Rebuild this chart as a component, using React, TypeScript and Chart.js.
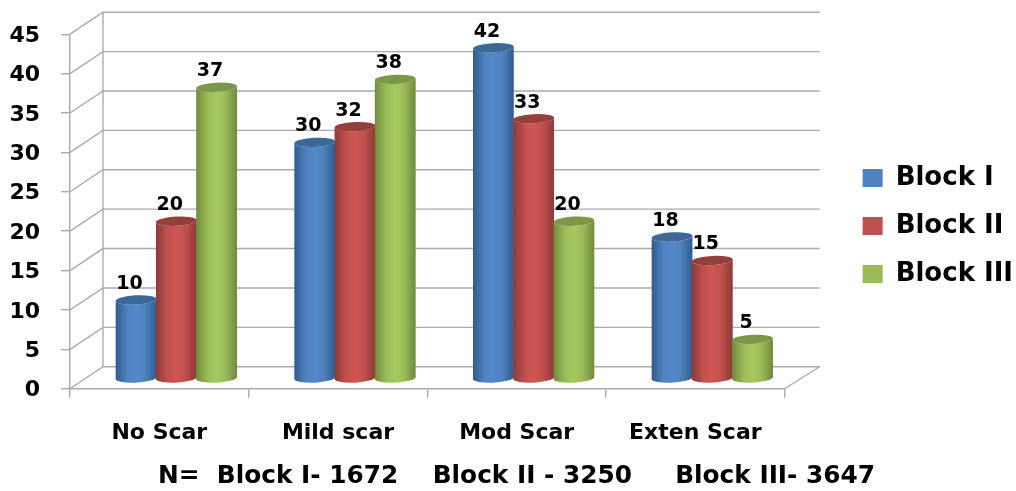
import React, { useEffect, useRef } from "react";
import { Chart, registerables } from "chart.js";

Chart.register(...registerables);

const categories = ["No Scar", "Mild scar", "Mod Scar", "Exten Scar"];
const blockI = [10, 30, 42, 18];
const blockII = [20, 32, 33, 15];
const blockIII = [37, 38, 20, 5];
const seriesNames = ["Block I", "Block II", "Block III"];
const footnote = "N=  Block I- 1672    Block II - 3250     Block III- 3647";

const flatColors = ["#4f81bd", "#c0504d", "#9bbb59"];
const edgeColors = ["#2f5c90", "#8c3a38", "#6f8a3a"];
const lightColors = ["#5289cc", "#d05654", "#a6c85f"];
const capColors = ["#3c6796", "#953f3d", "#7b9747"];

const GRID = "#ababab";
const DEPTH_X = 33;
const DEPTH_Y = 22;
const BAR_DX = 17;
const BAR_DY = -10;
const CAP_RY = 4.6;
const CAP_TILT = -0.05;

// Back wall and floor of the 3D box, projected from the value axis.
const boxPlugin = {
  id: "box3d",
  beforeDatasetsDraw(chart: any) {
    const { ctx, chartArea: a, scales } = chart;
    const y = scales.y;
    const wallRight = a.right + 35;
    ctx.save();
    ctx.strokeStyle = GRID;
    ctx.lineWidth = 1.4;
    for (const t of y.ticks) {
      const py = y.getPixelForValue(t.value);
      ctx.beginPath();
      ctx.moveTo(a.left, py);
      ctx.lineTo(a.left + DEPTH_X, py - DEPTH_Y);
      ctx.lineTo(wallRight, py - DEPTH_Y);
      ctx.stroke();
    }
    ctx.beginPath();
    ctx.moveTo(a.left + DEPTH_X, y.getPixelForValue(45) - DEPTH_Y);
    ctx.lineTo(a.left + DEPTH_X, y.getPixelForValue(0) - DEPTH_Y);
    ctx.stroke();
    ctx.beginPath();
    ctx.moveTo(a.right, a.bottom);
    ctx.lineTo(wallRight, a.bottom - DEPTH_Y);
    ctx.stroke();
    ctx.restore();
  },
};

// Replaces the flat bars with shaded cylinders and writes their values above them.
const cylinderPlugin = {
  id: "cylinders",
  beforeDatasetsDraw(chart: any) {
    const { ctx } = chart;
    chart.data.datasets.forEach((ds: any, di: number) => {
      const meta = chart.getDatasetMeta(di);
      meta.data.forEach((bar: any) => {
        const cx = bar.x + BAR_DX;
        const rx = bar.width / 2 + 0.3;
        const top = bar.y + BAR_DY;
        const bottom = bar.base + BAR_DY;
        const g = ctx.createLinearGradient(cx - rx, 0, cx + rx, 0);
        g.addColorStop(0, edgeColors[di]);
        g.addColorStop(0.28, flatColors[di]);
        g.addColorStop(0.5, lightColors[di]);
        g.addColorStop(0.72, flatColors[di]);
        g.addColorStop(1, edgeColors[di]);
        ctx.save();
        ctx.fillStyle = g;
        ctx.beginPath();
        ctx.ellipse(cx, top, rx, CAP_RY, CAP_TILT, Math.PI, 0, true);
        ctx.ellipse(cx, bottom, rx, CAP_RY, CAP_TILT, 0, Math.PI, false);
        ctx.closePath();
        ctx.fill();
        ctx.fillStyle = capColors[di];
        ctx.beginPath();
        ctx.ellipse(cx, top, rx, CAP_RY, CAP_TILT, 0, Math.PI * 2);
        ctx.fill();
        ctx.restore();
      });
    });
    ctx.save();
    ctx.fillStyle = "#000";
    ctx.font = "bold 19px 'DejaVu Sans'";
    ctx.textAlign = "center";
    ctx.textBaseline = "middle";
    chart.data.datasets.forEach((ds: any, di: number) => {
      chart.getDatasetMeta(di).data.forEach((bar: any, i: number) => {
        ctx.fillText(String(ds.data[i]), bar.x + BAR_DX - 6.5, bar.y + BAR_DY - 16);
      });
    });
    ctx.restore();
    return false;
  },
};

// Moves the legend and footnote clear of the plot once the layout is known.
const placementPlugin = {
  id: "placement",
  afterLayout(chart: any) {
    const legend = chart.legend;
    legend.left = chart.chartArea.right + 56;
    legend.right = legend.left + legend.width;
    legend.top -= 36;
    legend.bottom -= 36;
    const title = chart.titleBlock;
    title.left = 0;
    title.right = 1033;
  },
};

export default function App() {
  const ref = useRef<HTMLCanvasElement>(null);

  useEffect(() => {
    const chart = new Chart(ref.current!, {
      type: "bar",
      data: {
        labels: categories,
        datasets: [blockI, blockII, blockIII].map((values, i) => ({
          label: seriesNames[i],
          data: values,
          backgroundColor: flatColors[i],
          categoryPercentage: 0.676,
          barPercentage: 1,
        })),
      },
      options: {
        animation: false,
        responsive: false,
        layout: { padding: { left: 0, right: 49, top: 33, bottom: 0 } },
        scales: {
          x: {
            afterFit(scale: any) {
              scale.height = 72.5;
            },
            grid: {
              drawOnChartArea: false,
              color: GRID,
              lineWidth: 1.4,
              tickLength: 9,
              tickWidth: 1.4,
            },
            border: { color: GRID, width: 1.4 },
            ticks: {
              color: "#000",
              padding: 22,
              maxRotation: 0,
              font: { family: "'DejaVu Sans'", weight: "bold", size: 22 },
            },
          },
          y: {
            min: 0,
            max: 45,
            afterFit(scale: any) {
              scale.width = 70;
            },
            grid: {
              drawOnChartArea: false,
              color: GRID,
              lineWidth: 1.4,
              tickLength: 9,
              tickWidth: 1.4,
            },
            border: { color: GRID, width: 1.4 },
            ticks: {
              stepSize: 5,
              color: "#000",
              padding: 21,
              labelOffset: 2,
              font: { family: "'DejaVu Sans'", weight: "bold", size: 22 },
            },
          },
        },
        plugins: {
          legend: {
            position: "right",
            labels: {
              boxWidth: 20,
              boxHeight: 18,
              padding: 22,
              color: "#000",
              font: { family: "'DejaVu Sans'", weight: "bold", size: 26 },
            },
          },
          title: {
            display: true,
            position: "bottom",
            text: footnote,
            color: "#000",
            padding: 0,
            font: { family: "'DejaVu Sans'", weight: "bold", size: 24.8, lineHeight: 1.2 },
          },
          tooltip: { enabled: false },
        },
      },
      plugins: [placementPlugin, boxPlugin, cylinderPlugin],
    } as any);
    return () => chart.destroy();
  }, []);

  return (
    <div style={{ position: "absolute", left: 0, top: 0, width: 1016, height: 491 }}>
      <canvas ref={ref} width={1016} height={491} style={{ display: "block" }} />
    </div>
  );
}
